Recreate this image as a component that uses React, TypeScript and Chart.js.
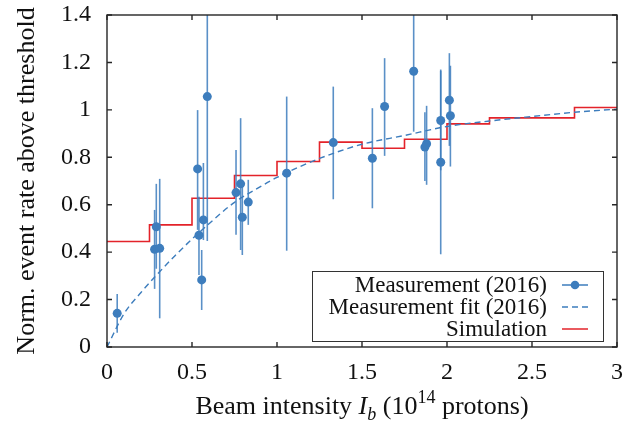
import React, { useEffect, useRef } from 'react';
import { Chart, registerables } from 'chart.js';

Chart.register(...registerables);

// ---------- data ----------
const MEAS_X = [0.06, 0.28, 0.29, 0.31, 0.533, 0.541, 0.557, 0.567, 0.59, 0.759, 0.786, 0.796, 0.831, 1.057, 1.331, 1.561, 1.633, 1.804, 1.87, 1.88, 1.963, 1.963, 2.014, 2.02];
const MEAS_Y = [0.142, 0.412, 0.507, 0.416, 0.751, 0.471, 0.283, 0.536, 1.056, 0.651, 0.688, 0.547, 0.611, 0.733, 0.862, 0.796, 1.014, 1.163, 0.843, 0.857, 0.955, 0.779, 1.041, 0.975];
const MEAS_LOW = [0.06, 0.245, 0.33, 0.121, 0.494, 0.304, 0.156, 0.451, 0.447, 0.473, 0.409, 0.388, 0.515, 0.406, 0.623, 0.585, 0.806, 0.908, 0.7, 0.684, 0.745, 0.391, 0.848, 0.761];
const MEAS_HIGH = [0.223, 0.578, 0.688, 0.709, 0.999, 0.634, 0.409, 0.776, 1.665, 0.831, 0.965, 0.676, 0.705, 1.056, 1.098, 1.007, 1.218, 1.418, 0.99, 1.017, 1.165, 1.17, 1.239, 1.186];

const FIT_X = [0, 0.1, 0.2, 0.3, 0.4, 0.5, 0.6, 0.75, 0.9, 1.0, 1.25, 1.5, 1.75, 2.0, 2.25, 2.5, 2.75, 3.0];
const FIT_Y = [0, 0.14, 0.23, 0.31, 0.385, 0.455, 0.52, 0.61, 0.675, 0.715, 0.795, 0.855, 0.892, 0.93, 0.953, 0.972, 0.99, 1.003];

const SIM_X = [0, 0.25, 0.5, 0.75, 1.0, 1.25, 1.5, 1.75, 2.0, 2.25, 2.75, 3.0];
const SIM_Y = [0.445, 0.515, 0.627, 0.723, 0.782, 0.864, 0.838, 0.876, 0.941, 0.966, 1.01, 1.01];

const X_TICKS = [0, 0.5, 1, 1.5, 2, 2.5, 3];
const X_TICK_LABELS = ['0', '0.5', '1', '1.5', '2', '2.5', '3'];
const Y_TICKS = [0, 0.2, 0.4, 0.6, 0.8, 1.0, 1.2, 1.4];
const Y_TICK_LABELS = ['0', '0.2', '0.4', '0.6', '0.8', '1', '1.2', '1.4'];

const LEGEND_LABELS = ['Measurement (2016)', 'Measurement fit (2016)', 'Simulation'];
const Y_TITLE = 'Norm. event rate above threshold';
const X_TITLE_PARTS = [
  { t: 'Beam intensity ', style: 'normal', size: 26, dy: 0 },
  { t: 'I', style: 'italic', size: 26, dy: 0 },
  { t: 'b', style: 'italic', size: 18, dy: 6 },
  { t: ' (10', style: 'normal', size: 26, dy: 0 },
  { t: '14', style: 'normal', size: 18, dy: -11 },
  { t: ' protons)', style: 'normal', size: 26, dy: 0 },
];

// ---------- styles ----------
const SERIF = "'Liberation Serif', 'Times New Roman', Times, serif";
const BLUE = '#3d7dbd';
const RED = '#e3232a';
const INK = '#111111';
const FRAME = '#262626';

const zeroPad = (s: any) => {
  s.paddingTop = 0;
  s.paddingBottom = 0;
  s.paddingLeft = 0;
  s.paddingRight = 0;
};

const decorPlugin = {
  id: 'decor',
  beforeDatasetDraw(chart: any, args: any) {
    if (args.index !== 0) return;
    const { ctx, chartArea: ca, scales } = chart;
    const xs = scales.x, ys = scales.y;
    ctx.save();
    ctx.beginPath();
    ctx.rect(ca.left, ca.top, ca.right - ca.left, ca.bottom - ca.top);
    ctx.clip();
    ctx.strokeStyle = BLUE;
    ctx.globalAlpha = 0.85;
    ctx.lineWidth = 1.6;
    for (let i = 0; i < MEAS_X.length; i++) {
      const px = xs.getPixelForValue(MEAS_X[i]);
      ctx.beginPath();
      ctx.moveTo(px, ys.getPixelForValue(MEAS_LOW[i]));
      ctx.lineTo(px, ys.getPixelForValue(MEAS_HIGH[i]));
      ctx.stroke();
    }
    ctx.restore();
  },
  afterDraw(chart: any) {
    const { ctx, chartArea: ca, scales } = chart;
    const xs = scales.x, ys = scales.y;
    ctx.save();
    // frame
    ctx.strokeStyle = FRAME;
    ctx.lineWidth = 1.4;
    ctx.strokeRect(ca.left, ca.top, ca.right - ca.left, ca.bottom - ca.top);
    const tl = 5;
    ctx.beginPath();
    X_TICKS.forEach((v) => {
      const px = xs.getPixelForValue(v);
      ctx.moveTo(px, ca.bottom); ctx.lineTo(px, ca.bottom - tl);
      ctx.moveTo(px, ca.top); ctx.lineTo(px, ca.top + tl);
    });
    Y_TICKS.forEach((v) => {
      const py = ys.getPixelForValue(v);
      ctx.moveTo(ca.left, py); ctx.lineTo(ca.left + tl, py);
      ctx.moveTo(ca.right, py); ctx.lineTo(ca.right - tl, py);
    });
    ctx.stroke();

    // legend
    const right = ca.right - 14, bottom = ca.bottom - 6, w = 291, h = 70;
    const left = right - w, top = bottom - h;
    ctx.fillStyle = '#ffffff';
    ctx.fillRect(left, top, w, h);
    ctx.strokeStyle = '#333333';
    ctx.lineWidth = 1;
    ctx.strokeRect(left + 0.5, top + 0.5, w, h);
    ctx.font = `23px ${SERIF}`;
    ctx.textAlign = 'right';
    ctx.textBaseline = 'middle';
    ctx.fillStyle = INK;
    LEGEND_LABELS.forEach((lab, i) => {
      const y = top + 14 + i * 22;
      ctx.fillText(lab, right - 56, y + 1);
      const x0 = right - 41, x1 = right - 15;
      ctx.beginPath();
      ctx.lineWidth = i === 1 ? 1.3 : 1.5;
      ctx.strokeStyle = i === 2 ? RED : BLUE;
      ctx.setLineDash(i === 1 ? [6, 4] : []);
      ctx.moveTo(x0, y); ctx.lineTo(x1, y);
      ctx.stroke();
      ctx.setLineDash([]);
      if (i === 0) {
        ctx.beginPath();
        ctx.fillStyle = BLUE;
        ctx.arc((x0 + x1) / 2, y, 4.3, 0, Math.PI * 2);
        ctx.fill();
        ctx.fillStyle = INK;
      }
    });

    // y title
    ctx.save();
    ctx.translate(27, (ca.top + ca.bottom) / 2);
    ctx.rotate(-Math.PI / 2);
    ctx.font = `26px ${SERIF}`;
    ctx.textAlign = 'center';
    ctx.textBaseline = 'middle';
    ctx.fillStyle = INK;
    ctx.fillText(Y_TITLE, 0, 0);
    ctx.restore();

    // x title
    ctx.textAlign = 'left';
    ctx.textBaseline = 'alphabetic';
    ctx.fillStyle = INK;
    let total = 0;
    X_TITLE_PARTS.forEach((p) => {
      ctx.font = `${p.style} ${p.size}px ${SERIF}`;
      total += ctx.measureText(p.t).width;
    });
    let x = (ca.left + ca.right) / 2 - total / 2;
    const base = 414;
    X_TITLE_PARTS.forEach((p) => {
      ctx.font = `${p.style} ${p.size}px ${SERIF}`;
      ctx.fillText(p.t, x, base + p.dy);
      x += ctx.measureText(p.t).width;
    });
    ctx.restore();
  },
};

export default function App() {
  const ref = useRef<HTMLCanvasElement>(null);
  useEffect(() => {
    document.body.style.margin = '0';
    const canvas = ref.current!;
    const chart = new Chart(canvas, {
      type: 'line',
      data: {
        datasets: [
          {
            label: LEGEND_LABELS[0],
            data: MEAS_X.map((x, i) => ({ x, y: MEAS_Y[i] })),
            showLine: false,
            pointRadius: 4.5,
            pointBackgroundColor: BLUE,
            pointBorderColor: BLUE,
            pointBorderWidth: 0,
            borderColor: BLUE,
            backgroundColor: BLUE,
          },
          {
            label: LEGEND_LABELS[1],
            data: FIT_X.map((x, i) => ({ x, y: FIT_Y[i] })),
            borderColor: BLUE,
            borderWidth: 1.4,
            borderDash: [6, 4],
            pointRadius: 0,
            cubicInterpolationMode: 'monotone',
            fill: false,
          },
          {
            label: LEGEND_LABELS[2],
            data: SIM_X.map((x, i) => ({ x, y: SIM_Y[i] })),
            borderColor: RED,
            borderWidth: 1.6,
            stepped: 'before',
            pointRadius: 0,
            fill: false,
          },
        ],
      },
      options: {
        responsive: false,
        devicePixelRatio: 1,
        animation: false,
        layout: { padding: { top: 15, right: 11, left: 0, bottom: 0 } },
        plugins: { legend: { display: false }, tooltip: { enabled: false } },
        scales: {
          x: {
            type: 'linear',
            min: 0,
            max: 3,
            afterBuildTicks: (s: any) => { s.ticks = X_TICKS.map((v) => ({ value: v })); },
            afterFit: (s: any) => { s.height = 81; zeroPad(s); },
            grid: { display: false, drawTicks: false },
            border: { display: false },
            ticks: {
              autoSkip: false,
              maxRotation: 0,
              padding: 11,
              color: INK,
              font: { family: SERIF, size: 24 },
              callback: (_v: any, i: number) => X_TICK_LABELS[i],
            },
          },
          y: {
            type: 'linear',
            min: 0,
            max: 1.4,
            afterBuildTicks: (s: any) => { s.ticks = Y_TICKS.map((v) => ({ value: v })); },
            afterFit: (s: any) => { s.width = 107; zeroPad(s); },
            grid: { display: false, drawTicks: false },
            border: { display: false },
            ticks: {
              autoSkip: false,
              padding: 16,
              color: INK,
              font: { family: SERIF, size: 24 },
              callback: (_v: any, i: number) => Y_TICK_LABELS[i],
            },
          },
        },
      },
      plugins: [decorPlugin],
    } as any);
    return () => chart.destroy();
  }, []);
  return (
    <div style={{ position: 'absolute', left: 0, top: 0, width: 628, height: 428 }}>
      <canvas ref={ref} width={628} height={428} style={{ width: 628, height: 428, display: 'block' }} />
    </div>
  );
}
